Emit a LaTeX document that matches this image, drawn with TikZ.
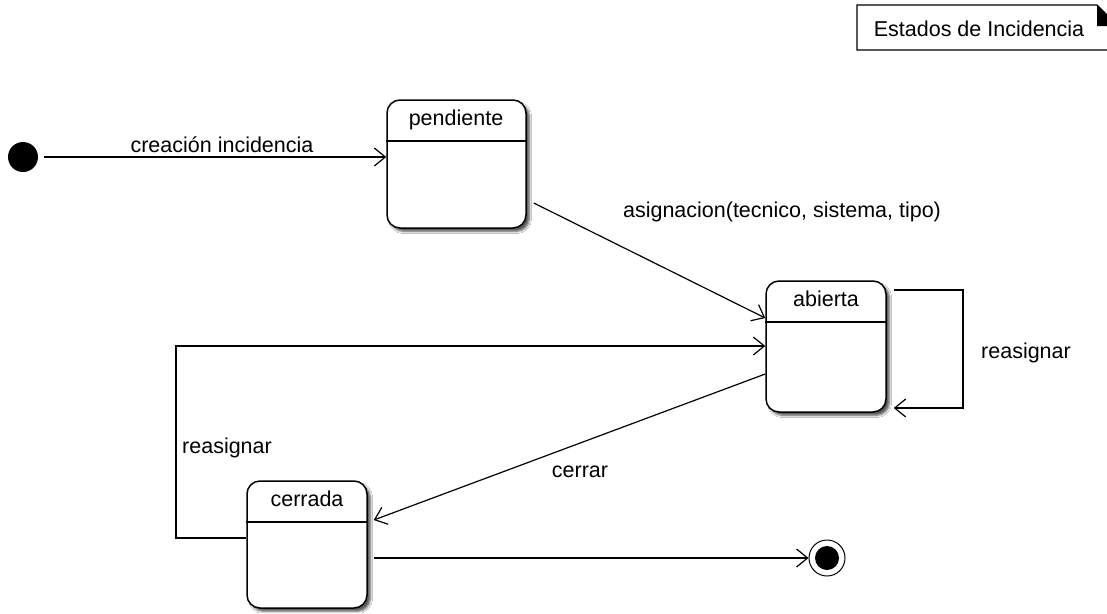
\documentclass[tikz,border=0pt]{standalone}
\usepackage{fontspec}
\setmainfont{Liberation Sans}
\usetikzlibrary{arrows.meta,shadows.blur,calc}
\begin{document}
\begin{tikzpicture}[x=1pt,y=-1pt,
  every node/.style={font=\fontsize{21.5}{25}\selectfont},
  statebox/.style={draw, line width=1.5pt, rounded corners=13pt, inner sep=0pt, fill=white,
    blur shadow={shadow xshift=3.5pt, shadow yshift=-3.5pt, shadow blur steps=5, shadow opacity=65}},
  lbl/.style={anchor=base, inner sep=0pt},
  sep/.style={line width=1.3pt},
  tr/.style={line width=1.2pt, -{Straight Barb[length=11pt,width=18pt,line width=1.2pt]}}]

\useasboundingbox (0,0) rectangle (1107,613);
\fill[white] (0,0) rectangle (1107,613);
\clip (0,0) rectangle (1107,613);

% note in the top right corner
\node[lbl] (title) at (979,36) {Estados de Incidencia};
\draw[line width=1.3pt] (857,5) -- (1097,5) -- (1118,26) -- (1118,50) -- (857,50) -- cycle;
\fill (1097,5) -- (1097,26) -- (1118,26) -- cycle;

% states
\node[statebox, minimum width=139pt, minimum height=128pt] (pend) at (456.5,164) {};
\draw[sep] (pend.west |- 0,141) -- (pend.east |- 0,141);
\node[lbl] (pendT) at (456,125) {pendiente};

\node[statebox, minimum width=120pt, minimum height=131pt] (ab) at (826,346.5) {};
\draw[sep] (ab.west |- 0,322) -- (ab.east |- 0,322);
\node[lbl] (abT) at (826,306) {abierta};

\node[statebox, minimum width=120pt, minimum height=127pt] (cer) at (307,544.5) {};
\draw[sep] (cer.west |- 0,522) -- (cer.east |- 0,522);
\node[lbl] (cerT) at (307,506) {cerrada};

% initial and final pseudo-states
\node[circle, fill, inner sep=0pt, minimum size=30pt] (init) at (23,157) {};
\node[circle, draw, line width=1pt, inner sep=0pt, minimum size=36pt] (fin) at (827,558) {};
\node[circle, fill, inner sep=0pt, minimum size=24pt] (finc) at (fin) {};

% transitions
\draw[tr] ($(init.east)+(6,0)$) -- (init -| pend.west);
\node[lbl] (lCre) at (222,152) {creación incidencia};

\coordinate (sA) at ($(pend.east |- 0,203)+(7,0)$);
\draw[tr] (sA) -- (ab.west |- 0,318);
\node[lbl] (lAsig) at (782,217) {asignacion(tecnico, sistema, tipo)};

\coordinate (loopA) at (963,290);
\coordinate (loopB) at (963,408);
\draw[tr] ($(ab.east |- loopA)+(7,0)$) -- (loopA) -- (loopB) -- ($(ab.east |- loopB)+(7,0)$);
\node[lbl] (lReR) at (1026,358) {reasignar};

\coordinate (loopC) at (176,538);
\coordinate (loopD) at (176,346);
\draw[tr] (cer.west |- loopC) -- (loopC) -- (loopD) -- (ab.west |- loopD);
\node[lbl] (lReL) at (227,453) {reasignar};

\draw[tr] (ab.west |- 0,374) -- ($(cer.east |- 0,520)+(6,0)$);
\node[lbl] (lCer) at (580,477) {cerrar};

\draw[tr] ($(cer.east |- fin)+(6,0)$) -- (fin.west);
\end{tikzpicture}
\end{document}
